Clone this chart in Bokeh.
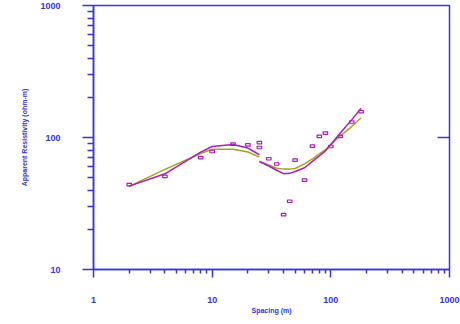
from bokeh.plotting import figure
from bokeh.models import LogAxis, FixedTicker, CustomJSTickFormatter
from bokeh.embed import file_html
from bokeh.resources import INLINE

# ---- data ----
spacing_obs = [2, 4, 8, 10, 15, 20, 25, 25, 30, 35, 40, 45, 50, 60, 70, 80, 90, 100, 120, 150, 180]
rho_obs = [44, 50.7, 70.5, 78.3, 89, 88, 91.6, 84, 69, 63, 26, 32.9, 67.3, 47.5, 86, 102, 108, 85.5, 102, 131, 157]

spacing_seg1 = [2, 4, 8, 10, 15, 20, 25]
model_a_seg1 = [42.8, 53.1, 77.4, 85.5, 88.5, 83.2, 74.0]
model_b_seg1 = [42.6, 57.3, 75.7, 81.5, 81.5, 77.6, 71.0]

spacing_seg2 = [25, 30, 35, 40, 45, 50, 60, 70, 80, 90, 100, 120, 150, 180]
model_a_seg2 = [65.8, 60.8, 56.5, 53.2, 53.5, 55.2, 59.0, 66.0, 72.6, 79.0, 88.5, 108, 136, 167]
model_b_seg2 = [65.8, 61.9, 58.6, 57.6, 57.6, 58.2, 63.2, 69.0, 75.3, 80.9, 88.5, 102.6, 121, 141]

x_ticks = [1, 10, 100, 1000]
x_tick_labels = ["1", "10", "100", "1000"]
y_ticks = [10, 100, 1000]
y_tick_labels = ["10", "100", "1000"]

x_title = "Spacing (m)"
y_title = "Apparent Resistivity (ohm-m)"

# ---- style ----
BLUE = "#3434e0"
MAGENTA = "#ac1cbc"
OLIVE = "#a4a41c"
FONT = "Liberation Sans"

p = figure(width=460, height=318, x_axis_type="log", y_axis_type="log",
           x_range=(x_ticks[0], x_ticks[-1]), y_range=(y_ticks[0], y_ticks[-1]),
           output_backend="svg", toolbar_location=None,
           min_border_left=93, min_border_right=11, min_border_top=5, min_border_bottom=49)
p.grid.visible = False
p.outline_line_color = BLUE
p.outline_line_width = 1.5
p.background_fill_color = "white"
p.border_fill_color = "white"

empty = CustomJSTickFormatter(code="return ''")

def minors(ticks):
    return [t * m for t in ticks[:-1] for m in range(2, 10)]

xax = p.xaxis[0]
xax.ticker = FixedTicker(ticks=x_ticks, minor_ticks=minors(x_ticks))
xax.major_label_overrides = {t: s for t, s in zip(x_ticks, x_tick_labels)}
xax.major_label_standoff = 19
xax.major_tick_out = 8
xax.major_tick_in = 0
xax.minor_tick_out = 4
xax.minor_tick_in = 0

yax = p.yaxis[0]
yax.ticker = FixedTicker(ticks=y_ticks, minor_ticks=minors(y_ticks))
yax.major_label_overrides = {t: s for t, s in zip(y_ticks, y_tick_labels)}
yax.major_label_standoff = 22
yax.major_tick_out = 11
yax.major_tick_in = 0
yax.minor_tick_out = 6
yax.minor_tick_in = 0

for ax in (xax, yax):
    ax.axis_line_color = BLUE
    ax.axis_line_width = 1.5
    ax.major_tick_line_color = BLUE
    ax.major_tick_line_width = 1.5
    ax.minor_tick_line_color = BLUE
    ax.minor_tick_line_width = 1.5
    ax.major_label_text_font = FONT
    ax.major_label_text_font_size = "9px"
    ax.major_label_text_font_style = "bold"
    ax.major_label_text_color = BLUE
    ax.axis_label_text_font = FONT
    ax.axis_label_text_font_size = "7px"
    ax.axis_label_text_font_style = "bold"
    ax.axis_label_text_color = BLUE

xax.axis_label = x_title
xax.axis_label_standoff = 1
yax.axis_label = y_title
yax.axis_label_standoff = 9

rax = LogAxis(ticker=FixedTicker(ticks=[y_ticks[1]], minor_ticks=[]), formatter=empty,
              major_tick_in=12, major_tick_out=0, minor_tick_in=0, minor_tick_out=0,
              major_label_text_font_size="0px", major_label_standoff=0,
              axis_line_color=None, major_tick_line_color=BLUE, major_tick_line_width=1.5)
p.add_layout(rax, "right")

# curves
p.line(spacing_seg1, model_b_seg1, line_color=OLIVE, line_width=1.5)
p.line(spacing_seg2, model_b_seg2, line_color=OLIVE, line_width=1.5)
p.line(spacing_seg1, model_a_seg1, line_color=MAGENTA, line_width=1.5)
p.line(spacing_seg2, model_a_seg2, line_color=MAGENTA, line_width=1.5)

# observed points
p.rect(spacing_obs, rho_obs, width=4.5, height=2.5, width_units="screen", height_units="screen",
       fill_color=None, line_color=MAGENTA, line_width=1.2)

open("out.html", "w").write(file_html(p, INLINE))
